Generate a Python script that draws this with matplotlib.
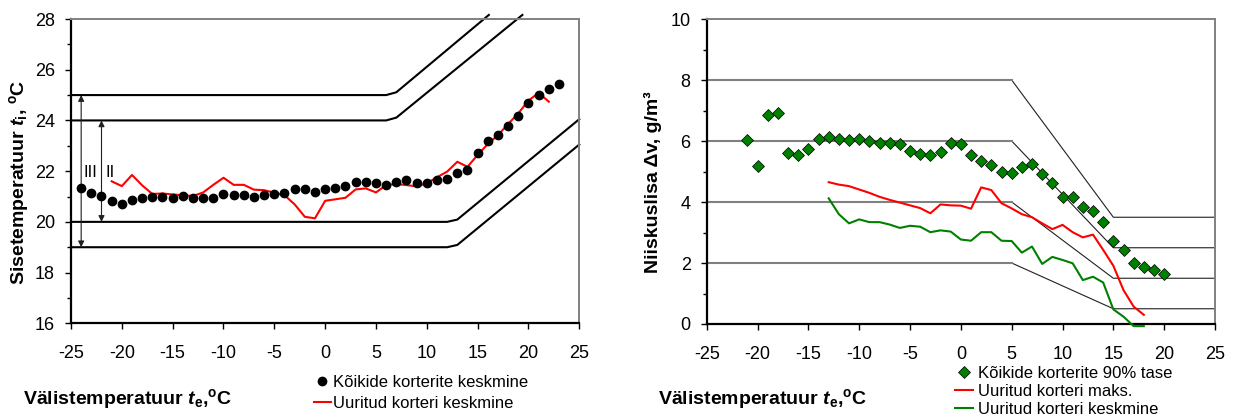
import matplotlib
matplotlib.use("Agg")
import matplotlib.pyplot as plt
from matplotlib.ticker import MultipleLocator

plt.rcParams['font.family'] = ['Liberation Sans', 'DejaVu Sans']
plt.rcParams['mathtext.fontset'] = 'custom'
plt.rcParams['mathtext.rm'] = 'Liberation Sans:bold'
plt.rcParams['mathtext.it'] = 'Liberation Sans:italic:bold'
plt.rcParams['mathtext.bf'] = 'Liberation Sans:bold'

# ---------------- data: indoor temperature ----------------
te_all = list(range(-24, 24))
ti_all = [21.33, 21.12, 21.03, 20.81, 20.71, 20.87, 20.93, 20.98, 20.98, 20.94,
          21.03, 20.94, 20.93, 20.94, 21.11, 21.07, 21.06, 20.99, 21.05, 21.08,
          21.14, 21.31, 21.31, 21.16, 21.28, 21.33, 21.42, 21.57, 21.58, 21.52,
          21.44, 21.58, 21.65, 21.52, 21.53, 21.66, 21.69, 21.94, 22.03, 22.71,
          23.18, 23.41, 23.78, 24.17, 24.67, 24.99, 25.25, 25.42]

te_meas = list(range(-21, 23))
ti_meas = [21.60, 21.41, 21.85, 21.44, 21.10, 21.12, 21.08, 21.05, 21.02, 21.16,
           21.46, 21.74, 21.46, 21.46, 21.27, 21.25, 21.15, 21.05, 20.69, 20.20,
           20.14, 20.83, 20.89, 20.95, 21.28, 21.32, 21.16, 21.45, 21.49, 21.45,
           21.40, 21.52, 21.76, 21.98, 22.37, 22.17, 22.64, 23.07, 23.42, 23.86,
           24.28, 24.78, 25.09, 24.74]

# comfort band limits (category III: 19..25, category II: 20..24)
upper3_x = [-25, 6, 7, 16.1]
upper3_y = [25, 25, 25.11, 28.16]
upper2_x = [-25, 6, 7, 19.4]
upper2_y = [24, 24, 24.11, 28.16]
lower2_x = [-25, 12, 13, 25]
lower2_y = [20, 20, 20.09, 24.05]
lower3_x = [-25, 12, 13, 25]
lower3_y = [19, 19, 19.09, 23.05]

# ---------------- data: moisture excess ----------------
te_dv90 = list(range(-21, 21))
dv90 = [6.03, 5.19, 6.86, 6.91, 5.62, 5.54, 5.73, 6.08, 6.12, 6.08,
        6.04, 6.08, 6.00, 5.93, 5.93, 5.90, 5.68, 5.56, 5.53, 5.64,
        5.92, 5.90, 5.54, 5.34, 5.21, 4.97, 4.96, 5.16, 5.26, 4.92,
        4.63, 4.17, 4.17, 3.85, 3.71, 3.34, 2.72, 2.43, 2.01, 1.88,
        1.77, 1.64]

te_dv = list(range(-13, 19))
dv_max = [4.65, 4.57, 4.52, 4.41, 4.30, 4.17, 4.07, 3.98, 3.89, 3.80,
          3.63, 3.92, 3.89, 3.88, 3.78, 4.48, 4.39, 3.96, 3.79, 3.60,
          3.50, 3.30, 3.11, 3.25, 3.01, 2.84, 2.93, 2.43, 1.91, 1.11,
          0.57, 0.30]
dv_mean = [4.12, 3.60, 3.30, 3.43, 3.34, 3.34, 3.26, 3.15, 3.22, 3.19,
           3.01, 3.07, 3.03, 2.77, 2.73, 3.01, 3.01, 2.73, 2.72, 2.34,
           2.54, 1.97, 2.20, 2.10, 1.99, 1.44, 1.55, 1.36, 0.48, 0.24,
           -0.07, -0.07]

# humidity class limits
class_x = [-25, 5, 15, 25]
class_levels = [(8, 3.5), (6, 2.5), (4, 1.5), (2, 0.5)]

x_ticks = [-25, -20, -15, -10, -5, 0, 5, 10, 15, 20, 25]

W, H = 1236, 418
fig = plt.figure(figsize=(W / 100, H / 100), dpi=100)


def frac(px, py):
    return px / W, 1 - py / H


ax1 = fig.add_axes([71 / W, 1 - 323.3 / H, 508.3 / W, 304.3 / H])
ax2 = fig.add_axes([706.7 / W, 1 - 324 / H, 508.3 / W, 305 / H])

GRAY = '#808080'
for ax in (ax1, ax2):
    ax.set_xlim(-25, 25)
    ax.set_xticks(x_ticks)
    ax.set_xticklabels([str(v) for v in x_ticks])
    for s in ('left', 'bottom'):
        ax.spines[s].set_color('black')
        ax.spines[s].set_linewidth(1.6)
    for s in ('top', 'right'):
        ax.spines[s].set_color(GRAY)
        ax.spines[s].set_linewidth(1.4)
    ax.tick_params(axis='both', which='major', direction='out', length=4.5,
                   width=1.0, labelsize=13, color='black')
    ax.tick_params(axis='x', pad=11)
    ax.tick_params(axis='y', pad=7)
    ax.tick_params(axis='y', which='minor', direction='out', length=3, width=1.0)
    ax.tick_params(top=False, right=False, which='both')

# ---------- left chart ----------
ax1.set_ylim(16, 28)
ax1.yaxis.set_major_locator(MultipleLocator(2))
ax1.yaxis.set_minor_locator(MultipleLocator(1))

for bx, by in ((upper3_x, upper3_y), (upper2_x, upper2_y),
               (lower2_x, lower2_y), (lower3_x, lower3_y)):
    ax1.plot(bx, by, color='black', lw=1.5, clip_on=False, zorder=2)

ax1.annotate('', xy=(-24, 25), xytext=(-24, 19),
             arrowprops=dict(arrowstyle='<|-|>', lw=0.8, color='#202020',
                             mutation_scale=9, shrinkA=0, shrinkB=0))
ax1.annotate('', xy=(-22, 24), xytext=(-22, 20),
             arrowprops=dict(arrowstyle='<|-|>', lw=0.8, color='#202020',
                             mutation_scale=9, shrinkA=0, shrinkB=0))
ax1.text(-23.1, 21.95, 'III', fontsize=12, ha='center', va='center')
ax1.text(-21.2, 21.95, 'II', fontsize=12, ha='center', va='center')

l_meas, = ax1.plot(te_meas, ti_meas, color='#ff0000', lw=1.5, zorder=3)
l_all, = ax1.plot(te_all, ti_all, 'o', color='black', ms=6, zorder=4)

# ---------- right chart ----------
ax2.set_ylim(0, 10)
ax2.yaxis.set_major_locator(MultipleLocator(2))
ax2.yaxis.set_minor_locator(MultipleLocator(1))

for lo, hi in class_levels:
    yy = [lo, lo, hi, hi]
    ax2.plot(class_x[1:], yy[1:], color='#202020', lw=0.8, zorder=2)
    ax2.plot(class_x[:2], yy[:2], color=GRAY, lw=1.5, zorder=2)

r_mean, = ax2.plot(te_dv, dv_mean, color='#008000', lw=1.5, zorder=3, clip_on=False)
r_max, = ax2.plot(te_dv, dv_max, color='#ff0000', lw=1.5, zorder=3)
r_90, = ax2.plot(te_dv90, dv90, 'D', color='#008000', mec='black', mew=0.5,
                 ms=6, zorder=4, linestyle='none')

# ---------- axis titles ----------
fig.text(*frac(19, 182), 'Sisetemperatuur $\\mathit{t}_{\\mathrm{i}}$, $^{\\mathrm{o}}$C',
         rotation=90, ha='center', va='center', fontsize=14, fontweight='bold')
fig.text(*frac(653, 182), 'Niiskuslisa \u0394v, g/m\u00b3',
         rotation=90, ha='center', va='center', fontsize=14, fontweight='bold')
fig.text(*frac(23, 399), 'Välistemperatuur $\\mathit{t}_{\\mathrm{e}}$,$^{\\mathrm{o}}$C',
         ha='left', va='center', fontsize=14, fontweight='bold')
fig.text(*frac(658, 399), 'Välistemperatuur $\\mathit{t}_{\\mathrm{e}}$,$^{\\mathrm{o}}$C',
         ha='left', va='center', fontsize=14, fontweight='bold')

# ---------- legends ----------
fig.legend([l_all, l_meas], ['Kõikide korterite keskmine', 'Uuritud korteri keskmine'],
           loc='upper left', bbox_to_anchor=frac(314, 375), frameon=False,
           borderpad=0, borderaxespad=0, handlelength=1.0, handletextpad=0.15,
           labelspacing=0.37, fontsize=12, numpoints=1)
fig.legend([r_90, r_max, r_mean],
           ['Kõikide korterite 90% tase', 'Uuritud korteri maks.', 'Uuritud korteri keskmine'],
           loc='upper left', bbox_to_anchor=frac(955, 366), frameon=False,
           borderpad=0, borderaxespad=0, handlelength=1.1, handletextpad=0.3,
           labelspacing=0.17, fontsize=12, numpoints=1)

fig.savefig('out.png', dpi=100)
